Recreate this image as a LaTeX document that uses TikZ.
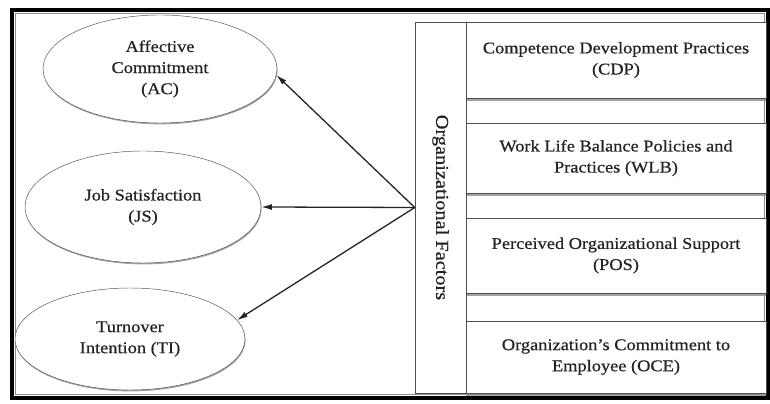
\documentclass[tikz,border=0pt]{standalone}
\usepackage{fontspec}
\setmainfont{Liberation Serif}[FakeStretch=1.12, FakeBold=0.5]
\usepackage{tikz}
\usetikzlibrary{positioning, arrows.meta, shapes, shadows}
\definecolor{tinta}{RGB}{35, 35, 35}
\definecolor{borde}{RGB}{80, 80, 80}
\definecolor{sombra}{RGB}{140, 140, 140}
\tikzset{
    elip/.style={draw, ellipse, draw=borde, fill=white, text=tinta, align=center, inner sep=0pt, font=\fontsize{14}{18}\selectfont, drop shadow={shadow xshift=0.5pt, shadow yshift=-1.2pt, fill=sombra, opacity=0.8}},
    fact/.style={draw, rectangle, draw=borde, fill=white, text=tinta, align=center, minimum width=9cm, font=\fontsize{14}{18}\selectfont, drop shadow={shadow xshift=0pt, shadow yshift=-2.2pt, fill=sombra, opacity=0.8}},
    orgf/.style={draw, rectangle, draw=borde, fill=white, text=tinta, font=\fontsize{15.5}{18}\selectfont, minimum width=11.13cm, minimum height=1.53cm},
    conn/.style={-{Latex[length=9pt, width=5pt]}, tinta, line width=1.1pt},
}
\begin{document}
\begin{tikzpicture}[x=0.03cm, y=-0.03cm]
        \useasboundingbox (0,0) rectangle (770,404);
        % outer frame
        \draw[sombra, line width=1.5pt] (15.5,13.5) rectangle (764.5,394.5);
        \draw[black, line width=3.4pt] (12,10) rectangle (768,398);

        % outcomes
        \node[elip, minimum width=7.02cm, minimum height=3.24cm] (ac) at (160,69) {Affective\\Commitment\\(AC)};
        \node[elip, minimum width=7.08cm, minimum height=3.36cm] (js) at (143,207) {Job Satisfaction\\(JS)};
        \node[elip, minimum width=6.9cm, minimum height=3.06cm] (ti) at (130,339) {Turnover\\Intention (TI)};

        % organizational factors
        \node[fact, minimum height=2.28cm] (cdp) at (616,60) {Competence Development Practices\\(CDP)};
        \node[fact, minimum height=2.1cm] (wlb) at (616,158) {Work Life Balance Policies and\\Practices (WLB)};
        \node[fact, minimum height=2.25cm] (pos) at (616,255.5) {Perceived Organizational Support\\(POS)};
        \node[fact, minimum height=2.16cm] (oce) at (616,357) {Organization's Commitment to\\Employee (OCE)};
        \node[orgf, rotate=-90] (org) at (440.5,207.5) {Organizational Factors};

        \draw[conn] (org.south) -- (ac.-3);
        \draw[conn] (org.south) -- (js.east);
        \draw[conn] (org.south) -- (ti.10);
    \end{tikzpicture}
\end{document}
